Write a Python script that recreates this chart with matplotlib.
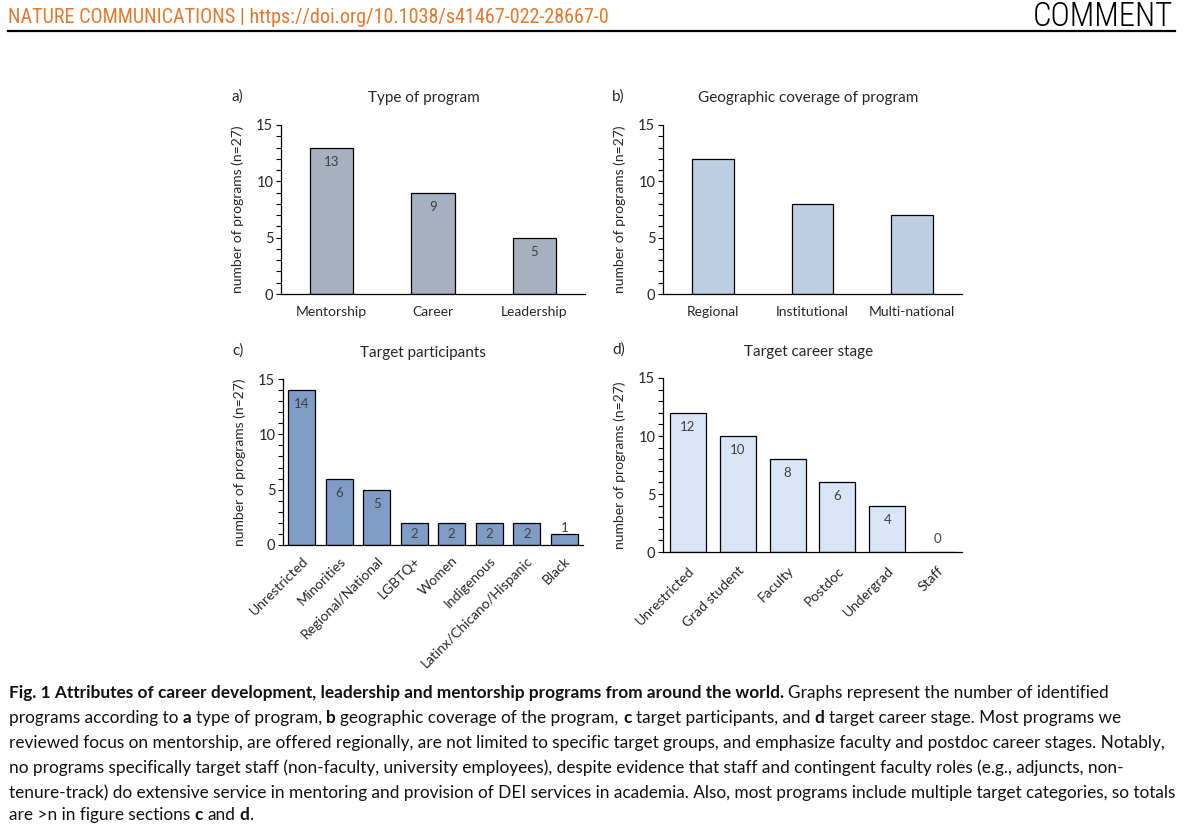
import matplotlib
matplotlib.use('Agg')
import matplotlib.pyplot as plt
from matplotlib import font_manager as fm
from matplotlib.ticker import MultipleLocator


def has_font(name):
    try:
        fm.findfont(fm.FontProperties(family=name), fallback_to_default=False)
        return True
    except Exception:
        return False


PLOT_FONT = next((f for f in ['Lato', 'Open Sans', 'DejaVu Sans'] if has_font(f)), 'DejaVu Sans')
HEAD_FONT = next((f for f in ['Roboto Condensed', 'Liberation Sans Narrow', 'Lato', 'DejaVu Sans'] if has_font(f)), 'DejaVu Sans')
CAP_FONT = next((f for f in ['Lato', 'Open Sans', 'DejaVu Sans'] if has_font(f)), 'DejaVu Sans')
plt.rcParams['font.family'] = [PLOT_FONT, 'DejaVu Sans']

# ---------------- data ----------------
type_cats = ['Mentorship', 'Career', 'Leadership']
type_vals = [13, 9, 5]
geo_cats = ['Regional', 'Institutional', 'Multi-national']
geo_vals = [12, 8, 7]
part_cats = ['Unrestricted', 'Minorities', 'Regional/National', 'LGBTQ+', 'Women',
             'Indigenous', 'Latinx/Chicano/Hispanic', 'Black']
part_vals = [14, 6, 5, 2, 2, 2, 2, 1]
stage_cats = ['Unrestricted', 'Grad student', 'Faculty', 'Postdoc', 'Undergrad', 'Staff']
stage_vals = [12, 10, 8, 6, 4, 0]

header_left = 'NATURE COMMUNICATIONS | https://doi.org/10.1038/s41467-022-28667-0'
header_right = 'COMMENT'
ylabel_text = 'number of programs (n=27)'

caption_lines = [
    [("Fig. 1 Attributes of career development, leadership and mentorship programs from around the world.", True),
     (" Graphs represent the number of identified", False)],
    [("programs according to ", False), ("a", True), (" type of program, ", False), ("b", True),
     (" geographic coverage of the program, ", False), ("c", True), (" target participants, and ", False),
     ("d", True), (" target career stage. Most programs we", False)],
    [("reviewed focus on mentorship, are offered regionally, are not limited to specific target groups, "
      "and emphasize faculty and postdoc career stages. Notably,", False)],
    [("no programs specifically target staff (non-faculty, university employees), despite evidence that "
      "staff and contingent faculty roles (e.g., adjuncts, non-", False)],
    [("tenure-track) do extensive service in mentoring and provision of DEI services in academia. Also, "
      "most programs include multiple target categories, so totals", False)],
    [("are >n in figure sections ", False), ("c", True), (" and ", False), ("d", True), (".", False)],
]

# ---------------- figure ----------------
W, H = 1194, 834
fig = plt.figure(figsize=(W / 100, H / 100), dpi=100)
fig.patch.set_facecolor('white')
renderer = fig.canvas.get_renderer()


def fx(x):
    return x / W


def fy(y):
    return 1 - y / H


def rect(l, t, r, b):
    return [l / W, 1 - b / H, (r - l) / W, (b - t) / H]


def text_width(s, **kw):
    t = fig.text(0, 0, s, **kw)
    w = t.get_window_extent(renderer).width
    t.remove()
    return w


def seg_width(s, **kw):
    return text_width('x' + s + 'x', **kw) - text_width('xx', **kw)


TXT = '#262626'
VAL = '#404040'


def panel(box, cats, vals, color, width, title, title_xy, letter, letter_xy, ylabel_x,
          show_vals=True, rotate=False, xpad=8):
    l, t, r, b = box
    ax = fig.add_axes(rect(*box))
    x = list(range(len(cats)))
    ax.bar(x, vals, width=width, color=color, edgecolor='black', linewidth=0.9, zorder=2)
    ax.set_xlim(-0.5, len(cats) - 0.5)
    ax.set_ylim(0, 15)
    ax.yaxis.set_major_locator(MultipleLocator(5))
    ax.yaxis.set_minor_locator(MultipleLocator(1))
    for s in ['top', 'right']:
        ax.spines[s].set_visible(False)
    for s in ['left', 'bottom']:
        ax.spines[s].set_linewidth(0.9)
        ax.spines[s].set_color('black')
    ax.tick_params(axis='y', which='both', direction='out', length=3.5, width=0.8,
                   color='black', labelsize=10.5, labelcolor=TXT, pad=2)
    ax.set_xticks(x)
    if rotate:
        ax.set_xticklabels(cats, rotation=45, ha='right', va='top', rotation_mode='anchor')
    else:
        ax.set_xticklabels(cats)
    ax.tick_params(axis='x', length=0, labelsize=10, labelcolor=TXT, pad=xpad)
    ax.set_facecolor('none')

    if show_vals:
        ppu = (b - t) / 15.0
        for xi, v in zip(x, vals):
            h = v * ppu
            if h >= 26:
                yc = v - 14 / ppu
            elif h >= 16:
                yc = v / 2
            else:
                yc = max(h + 6, 13) / ppu
            ax.text(xi, yc, str(v), ha='center', va='center', fontsize=9.5, color=VAL, zorder=3)

    fig.text(fx(title_xy[0]), fy(title_xy[1]), title, ha='center', va='center',
             fontsize=11, color=TXT)
    fig.text(fx(letter_xy[0]), fy(letter_xy[1]), letter, ha='left', va='center',
             fontsize=11, color=TXT)
    fig.text(fx(ylabel_x), fy((t + b) / 2), ylabel_text, rotation=90, ha='center', va='center',
             fontsize=10, color=TXT)
    return ax


panel((281, 125, 585, 294), type_cats, type_vals, '#A6B0BE', 0.43,
      'Type of program', (424, 98), 'a)', (231, 97), 238, xpad=9)
panel((663, 125, 962, 294), geo_cats, geo_vals, '#BECFE5', 0.42,
      'Geographic coverage of program', (808, 98), 'b)', (612, 97), 620, show_vals=False, xpad=9)
panel((283, 379, 583, 545), part_cats, part_vals, '#7F9CC6', 0.72,
      'Target participants', (423, 353), 'c)', (232, 351), 240, rotate=True, xpad=7)
panel((663, 378, 962, 552), stage_cats, stage_vals, '#D7E5F6', 0.72,
      'Target career stage', (809, 352), 'd)', (612, 350), 620, rotate=True, xpad=9)

# ---------------- header ----------------
hs = 10 * 600 / text_width(header_left, fontsize=10, family=HEAD_FONT)
fig.text(fx(8), fy(23), header_left, ha='left', va='baseline', fontsize=hs,
         family=HEAD_FONT, color='#E5782A')
cs = 20 * 141 / text_width(header_right, fontsize=20, family=HEAD_FONT, fontweight='light')
fig.text(fx(1173), fy(26), header_right, ha='right', va='baseline', fontsize=cs,
         family=HEAD_FONT, fontweight='light', color='black')
fig.add_artist(plt.Line2D([fx(8), fx(1175)], [fy(30.5), fy(30.5)], color='black', linewidth=1.6))

# ---------------- caption ----------------
line3 = caption_lines[2][0][0]
line5 = caption_lines[4][0][0]
cap_size = 10 * 1166 / max(text_width(line3, fontsize=10, family=CAP_FONT),
                           text_width(line5, fontsize=10, family=CAP_FONT))
baselines = [698, 723, 748, 773, 798, 820]
for segs, yb in zip(caption_lines, baselines):
    xcur = 9.0
    for s, bold in segs:
        kw = dict(fontsize=cap_size, family=CAP_FONT, fontweight='bold' if bold else 'normal')
        stripped = s.lstrip(' ')
        lead = len(s) - len(stripped)
        xs = xcur + (seg_width(' ' * lead, **kw) if lead else 0)
        fig.text(fx(xs), fy(yb), stripped.rstrip(' '), ha='left', va='baseline', color='#111111', **kw)
        xcur += seg_width(s, **kw)

fig.savefig('out.png', dpi=100)
